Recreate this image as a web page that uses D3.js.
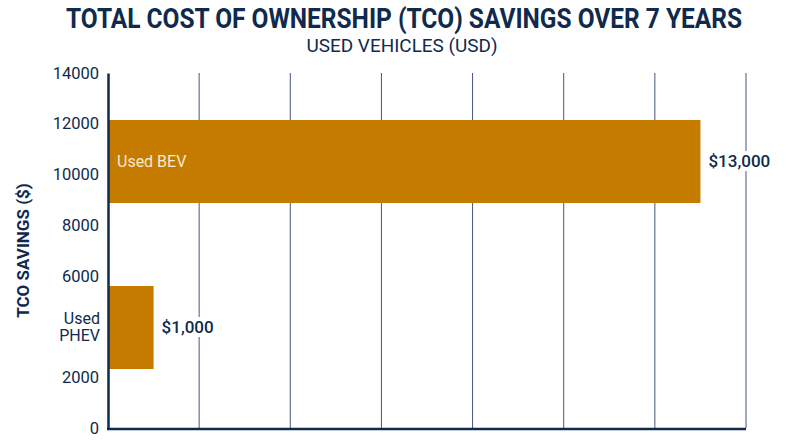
<!DOCTYPE html>
<html>
<head>
<meta charset="utf-8">
<script src="https://cdn.jsdelivr.net/npm/d3@7"></script>
<style>
  body { margin: 0; background: #fff; }
  text { font-family: Roboto, "Noto Sans", sans-serif; }
</style>
</head>
<body>
<div id="chart"></div>
<script>
// chart data
const categories = ["Used BEV", "Used PHEV"];
const savings = [13000, 1000];
const valueLabels = ["$13,000", "$1,000"];
const yTicks = [0, 2000, 6000, 8000, 10000, 12000, 14000];
const xGrid = [2000, 4000, 6000, 8000, 10000, 12000, 14000];

const width = 800, height = 447;
const margin = {top: 73, right: 54, bottom: 19, left: 108};
const navy = "#0f2a4d";
const barColor = "#c57b00";

const svg = d3.select("#chart")
    .append("svg")
    .attr("width", width)
    .attr("height", height);

const xScale = d3.scaleLinear()
    .domain([0, 14000])
    .range([margin.left, width - margin.right]);

const yScale = d3.scaleLinear()
    .domain([0, 14000])
    .range([height - margin.bottom, margin.top]);

// bars sit on their own band scale
const yBand = d3.scaleBand()
    .domain(categories)
    .range([120, 369])
    .paddingInner(0.5)
    .paddingOuter(0);

// title (condensed look: narrower glyphs, stretched a touch vertically)
svg.append("text")
    .attr("transform", "translate(404,28) scale(1,1.08)")
    .attr("text-anchor", "middle")
    .attr("font-size", 25)
    .attr("font-weight", "bold")
    .attr("fill", navy)
    .attr("textLength", 676)
    .attr("lengthAdjust", "spacingAndGlyphs")
    .text("TOTAL COST OF OWNERSHIP (TCO) SAVINGS OVER 7 YEARS");

svg.append("text")
    .attr("x", 402)
    .attr("y", 52)
    .attr("text-anchor", "middle")
    .attr("font-size", 18)
    .attr("fill", navy)
    .attr("textLength", 191)
    .attr("lengthAdjust", "spacingAndGlyphs")
    .text("USED VEHICLES (USD)");

// vertical grid lines
svg.append("g")
    .selectAll("line")
    .data(xGrid)
    .join("line")
      .attr("x1", d => xScale(d))
      .attr("x2", d => xScale(d))
      .attr("y1", yScale(14000))
      .attr("y2", yScale(0))
      .attr("stroke", "#44577a")
      .attr("stroke-width", 1);

// bars
svg.append("g")
    .selectAll("rect")
    .data(categories)
    .join("rect")
      .attr("x", xScale(0))
      .attr("y", d => yBand(d))
      .attr("width", (d, i) => xScale(savings[i]) - xScale(0))
      .attr("height", yBand.bandwidth())
      .attr("fill", barColor);

// value labels with white backing
const vl = svg.append("g")
    .selectAll("g")
    .data(categories)
    .join("g")
      .attr("transform", (d, i) => `translate(${xScale(savings[i]) + 8},${yBand(d) + yBand.bandwidth() / 2})`);

vl.append("text")
    .attr("dy", "0.35em")
    .attr("font-size", 17)
    .attr("font-weight", 500)
    .attr("fill", navy)
    .attr("stroke", "#fff")
    .attr("stroke-width", 8)
    .attr("stroke-linejoin", "round")
    .text((d, i) => valueLabels[i]);

vl.append("text")
    .attr("dy", "0.35em")
    .attr("font-size", 17)
    .attr("font-weight", 500)
    .attr("fill", navy)
    .text((d, i) => valueLabels[i]);

// category label inside the big bar
svg.append("text")
    .attr("x", xScale(0) + 9)
    .attr("y", yBand("Used BEV") + yBand.bandwidth() / 2)
    .attr("dy", "0.35em")
    .attr("font-size", 16)
    .attr("fill", "#f6ead2")
    .text("Used BEV");

// category label beside the axis for the short bar
const phev = svg.append("text")
    .attr("x", xScale(0) - 8)
    .attr("y", yBand("Used PHEV") + yBand.bandwidth() / 2)
    .attr("text-anchor", "end")
    .attr("font-size", 16)
    .attr("fill", navy);
phev.append("tspan").attr("x", xScale(0) - 8).attr("dy", "-0.25em").text("Used");
phev.append("tspan").attr("x", xScale(0) - 8).attr("dy", "1.1em").text("PHEV");

// y axis
const yAxis = svg.append("g")
    .attr("transform", `translate(${margin.left},0)`)
    .call(d3.axisLeft(yScale).tickValues(yTicks).tickFormat(d3.format("d")).tickSize(0).tickPadding(9));

yAxis.select(".domain")
    .attr("stroke", navy)
    .attr("stroke-width", 2.5);
yAxis.selectAll("text")
    .attr("font-size", 16.5)
    .attr("fill", navy);

// x axis line only
svg.append("line")
    .attr("x1", xScale(0) - 1)
    .attr("x2", xScale(14000))
    .attr("y1", yScale(0) + 1)
    .attr("y2", yScale(0) + 1)
    .attr("stroke", navy)
    .attr("stroke-width", 2.5);

svg.append("text")
    .attr("transform", `translate(29,${(yScale(0) + yScale(14000)) / 2}) rotate(-90)`)
    .attr("text-anchor", "middle")
    .attr("font-size", 17)
    .attr("font-weight", "bold")
    .attr("fill", navy)
    .text("TCO SAVINGS ($)");
</script>
</body>
</html>
